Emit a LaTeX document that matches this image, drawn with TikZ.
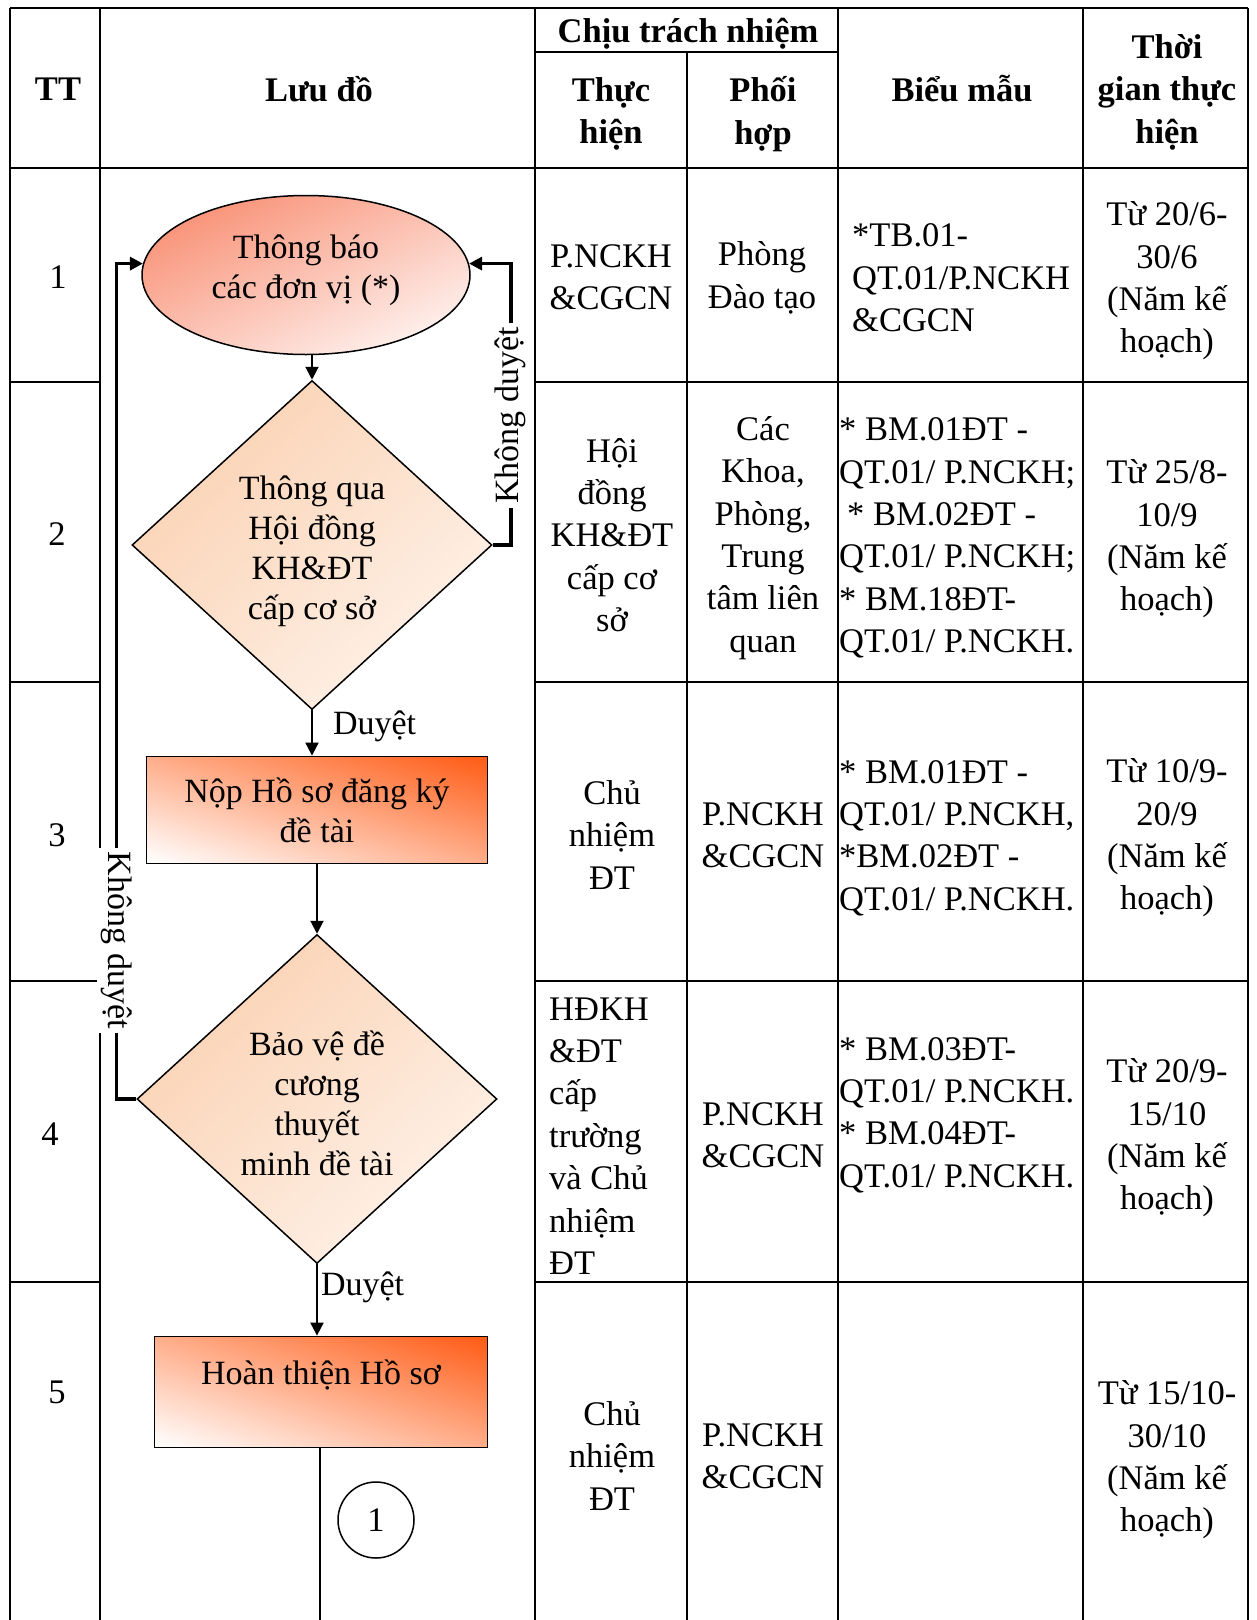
\documentclass[tikz,border=0pt]{standalone}
\usepackage{fontspec}
\setmainfont{Liberation Serif}
\usetikzlibrary{shapes.geometric, arrows.meta, positioning, calc}
\newcommand{\cellfont}{\fontsize{34.5pt}{42.4pt}\selectfont}
\newcommand{\flowfont}{\fontsize{34pt}{40pt}\selectfont}
\definecolor{salmon}{RGB}{248,132,102}
\definecolor{peach}{RGB}{250,203,168}
\definecolor{peachlight}{RGB}{255,248,243}
\definecolor{flame}{RGB}{255,92,22}

% diagonal fills, stretched to the shape's box
\pgfdeclareverticalshading{salmonshade}{100bp}{color(0bp)=(white); color(15bp)=(white); color(85bp)=(salmon); color(100bp)=(salmon)}
\pgfdeclareverticalshading{peachshade}{100bp}{color(0bp)=(peachlight); color(15bp)=(peachlight); color(85bp)=(peach); color(100bp)=(peach)}
\pgfdeclareverticalshading{flameshade}{100bp}{color(0bp)=(white); color(15bp)=(white); color(85bp)=(flame); color(100bp)=(flame)}
\newcommand{\stretchshade}[2]{%
  \pgfpointanchor{path picture bounding box}{south west}\pgfgetlastxy{\ppxa}{\ppya}%
  \pgfpointanchor{path picture bounding box}{north east}\pgfgetlastxy{\ppxb}{\ppyb}%
  \pgfmathsetmacro{\ppw}{(\ppxb)-(\ppxa)}%
  \pgfmathsetmacro{\pph}{(\ppyb)-(\ppya)}%
  \pgfmathsetmacro{\ppr}{\ppw/\pph}%
  \begin{pgfscope}%
    \pgftransformshift{\pgfpoint{0.5*(\ppxa)+0.5*(\ppxb)}{0.5*(\ppya)+0.5*(\ppyb)}}%
    \pgftransformxscale{\ppr}%
    \pgflowlevelsynccm%
    \pgfpathrectangle{\pgfpoint{-0.5*\pph}{-0.5*\pph}}{\pgfpoint{\pph}{\pph}}%
    \pgfshadepath{#1}{#2}%
  \end{pgfscope}%
}

\begin{document}
\begin{tikzpicture}[
    x=1pt, y=-1pt,
    grid/.style={line width=2pt},
    cell/.style={align=center, font=\cellfont, inner sep=0pt},
    lcell/.style={align=left, font=\cellfont, inner sep=0pt, anchor=west},
    head/.style={cell, font=\cellfont\bfseries},
    flowtext/.style={align=center, font=\flowfont, inner sep=0pt},
    startstop/.style={ellipse, draw, line width=1.5pt, minimum width=328pt, minimum height=159pt, inner sep=0pt, path picture={\stretchshade{salmonshade}{45}}},
    decision/.style={diamond, draw, line width=1.5pt, minimum width=360pt, minimum height=329pt, inner sep=0pt, path picture={\stretchshade{peachshade}{45}}},
    process/.style={rectangle, draw, line width=1.8pt, inner sep=0pt, align=center, font=\flowfont, path picture={\stretchshade{flameshade}{-45}}},
    connector/.style={circle, draw, line width=1.5pt, minimum size=76pt, inner sep=0pt, font=\cellfont},
    arrow/.style={line width=2pt, ->, >={Triangle[length=13pt, width=13pt]}},
    back/.style={arrow, line width=3.5pt},
    tag/.style={font=\flowfont, inner sep=0pt, anchor=west},
    backtag/.style={font=\flowfont, fill=white, inner sep=4pt}
]

\useasboundingbox (0,0) rectangle (1256,1620);

% table frame
\draw [grid] (10,8) -- (1248,8);
\draw [grid] (10,168) -- (1248,168);
\draw [grid] (535,52) -- (838,52);
\foreach \x in {10,100,535,838,1083,1248}
    \draw [grid] (\x,8) -- (\x,1620);
\draw [grid] (687,52) -- (687,1620);
\foreach \y in {382,682,981,1282} {
    \draw [grid] (10,\y) -- (100,\y);
    \draw [grid] (535,\y) -- (1248,\y);
}

% header
\node (hTT) [head] at (58,89) {TT};
\node (hLD) [head] at (319,89) {Lưu đồ};
\node (hCT) [head] at (688,34) {Chịu trách nhiệm};
\node (hTH) [head] at (611,114) {Thực\\hiện};
\node (hPH) [head] at (763,114) {Phối\\hợp};
\node (hBM) [head] at (962,89) {Biểu mẫu};
\node (hTG) [head] at (1167,92) {Thời\\gian thực\\hiện};

% step numbers
\node (tt1) [cell] at (58,277) {1};
\node (tt2) [cell] at (57,534) {2};
\node (tt3) [cell] at (57,835) {3};
\node (tt4) [cell] at (50,1134) {4};
\node (tt5) [cell] at (57,1392) {5};

% row 1
\node (th1) [cell] at (611,277) {P.NCKH\\\&CGCN};
\node (ph1) [cell] at (762,278) {Phòng\\Đào tạo};
\node (bm1) [lcell] at (852,278) {*TB.01-\\QT.01/P.NCKH\\\&CGCN};
\node (tg1) [cell] at (1167,281) {Từ 20/6-\\30/6\\(Năm kế\\hoạch)};

% row 2
\node (th2) [cell] at (612,535) {Hội\\đồng\\KH\&ĐT\\cấp cơ\\sở};
\node (ph2) [cell] at (763,538) {Các\\Khoa,\\Phòng,\\Trung\\tâm liên\\quan};
\node (bm2) [lcell] at (839,538) {* BM.01ĐT -\\QT.01/ P.NCKH;\\\hspace*{8pt}* BM.02ĐT -\\QT.01/ P.NCKH;\\* BM.18ĐT-\\QT.01/ P.NCKH.};
\node (tg2) [cell] at (1167,539) {Từ 25/8-\\10/9\\(Năm kế\\hoạch)};

% row 3
\node (th3) [cell] at (612,835) {Chủ\\nhiệm\\ĐT};
\node (ph3) [cell] at (763,835) {P.NCKH\\\&CGCN};
\node (bm3) [lcell] at (839,838) {* BM.01ĐT -\\QT.01/ P.NCKH,\\*BM.02ĐT -\\QT.01/ P.NCKH.};
\node (tg3) [cell] at (1167,838) {Từ 10/9-\\20/9\\(Năm kế\\hoạch)};

% row 4
\node (th4) [lcell] at (549,1136) {HĐKH\\\&ĐT\\cấp\\trường\\và Chủ\\nhiệm\\ĐT};
\node (ph4) [cell] at (763,1135) {P.NCKH\\\&CGCN};
\node (bm4) [lcell] at (839,1115) {* BM.03ĐT-\\QT.01/ P.NCKH.\\* BM.04ĐT-\\QT.01/ P.NCKH.};
\node (tg4) [cell] at (1167,1138) {Từ 20/9-\\15/10\\(Năm kế\\hoạch)};

% row 5
\node (th5) [cell] at (612,1456) {Chủ\\nhiệm\\ĐT};
\node (ph5) [cell] at (763,1456) {P.NCKH\\\&CGCN};
\node (tg5) [cell] at (1167,1460) {Từ 15/10-\\30/10\\(Năm kế\\hoạch)};

% flowchart
\node (ell) [startstop] at (306,275) {};
\node (ellT) [flowtext] at (306,270) {Thông báo\\các đơn vị (*)};
\node (d1) [decision] at (312,545) {};
\node (d1T) [flowtext] at (312,551) {Thông qua\\Hội đồng\\KH\&ĐT\\cấp cơ sở};
\node (r1) [process, minimum width=341pt, minimum height=107pt] at (317,810) {Nộp Hồ sơ đăng ký\\đề tài};
\node (d2) [decision] at (317,1099) {};
\node (d2T) [flowtext] at (317,1103) {Bảo vệ đề\\cương\\thuyết\\minh đề tài};
\node (r2) [process, minimum width=333pt, minimum height=111pt] at (321,1392) {Hoàn thiện Hồ sơ\\\mbox{}};
\node (c1) [connector] at (376,1520) {1};
\coordinate (tail) at (320,1620);

\draw [arrow] (d1.north |- ell.south) -- (d1.north);
\draw [arrow] (d1.south) -- node[tag, pos=0.35, xshift=20pt] {Duyệt} (d1.south |- r1.north);
\draw [arrow] (r1.south -| d2.north) -- (d2.north);
\draw [arrow] (d2.south) -- node[tag, pos=0.32, xshift=3pt] {Duyệt} (d2.south |- r2.north);
\draw [line width=2pt] (r2.south -| tail) -- (tail);
\draw [back] (d1.east) -- ++(18,0) |- node[backtag, rotate=90, pos=0.23] {Không duyệt} (ell.4);
\draw [back] (d2.west) -- ++(-20,0) |- node[backtag, rotate=-90, pos=0.095] {Không duyệt} (ell.176);

\end{tikzpicture}
\end{document}
